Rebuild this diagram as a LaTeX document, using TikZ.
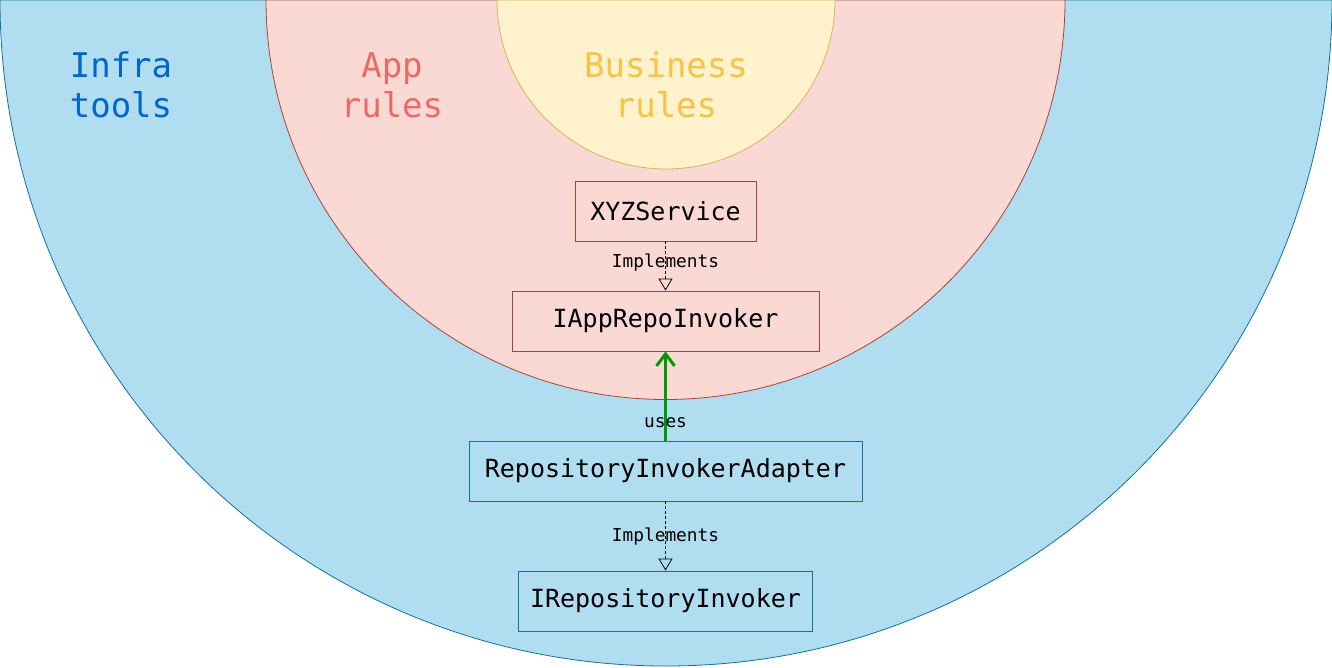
\documentclass[tikz,border=0pt]{standalone}
\usepackage{fontspec}
\setmonofont{DejaVu Sans Mono}
\usetikzlibrary{arrows.meta}
\definecolor{bluefill}{HTML}{B1DDF0}
\definecolor{bluestroke}{HTML}{10739E}
\definecolor{pinkfill}{HTML}{FAD9D5}
\definecolor{pinkstroke}{HTML}{AE4132}
\definecolor{yelfill}{HTML}{FFF2CC}
\definecolor{yelstroke}{HTML}{D6B656}
\definecolor{infratxt}{HTML}{0066CC}
\definecolor{apptxt}{HTML}{EA6B66}
\definecolor{bustxt}{HTML}{F6C342}
\definecolor{usesgreen}{HTML}{009900}
\begin{document}
\begin{tikzpicture}[x=1pt,y=1pt,
  pinkbox/.style={draw=pinkstroke, fill=pinkfill, line width=0.8pt, minimum height=60pt, inner sep=0pt,
    font=\fontsize{25}{30}\selectfont\ttfamily},
  bluebox/.style={draw=bluestroke, fill=bluefill, line width=0.8pt, minimum height=60pt, inner sep=0pt,
    font=\fontsize{25}{30}\selectfont\ttfamily},
  layerlabel/.style={align=center, font=\fontsize{34}{40}\selectfont\ttfamily},
  edgelabel/.style={font=\fontsize{17.8}{20}\selectfont\ttfamily, inner sep=0pt},
  implarrow/.style={draw=black, line width=0.6pt, dash pattern=on 3pt off 2pt, -{Triangle[open, length=12pt, width=14pt, line width=0.8pt]}},
  usesarrow/.style={draw=usesgreen, line width=3pt, -{Straight Barb[length=12pt, width=18pt, line width=3pt]}}
]
\useasboundingbox (0,0) rectangle (1332,-667);
\fill[white] (0,0) rectangle (1332,-667);
% layers
\draw[fill=bluefill, draw=bluestroke, line width=0.8pt] (0,0) arc[start angle=180, end angle=360, radius=666pt] -- cycle;
\draw[fill=pinkfill, draw=pinkstroke, line width=0.8pt] (266,0) arc[start angle=180, end angle=360, radius=399.5pt] -- cycle;
\draw[fill=yelfill, draw=yelstroke, line width=0.8pt] (497,0) arc[start angle=180, end angle=360, radius=169pt] -- cycle;
% layer labels
\node[layerlabel, text=infratxt] (infra) at (121,-85) {Infra\\tools};
\node[layerlabel, text=apptxt] (app) at (392,-85) {App\\rules};
\node[layerlabel, text=bustxt] (bus) at (666,-85) {Business\\rules};
% boxes
\node[pinkbox, minimum width=181pt] (xyz) at (665.5,-211) {XYZService};
\node[pinkbox, minimum width=307pt] (iapp) at (665.5,-321) {IAppRepoInvoker};
\node[bluebox, minimum width=393pt] (ria) at (665.5,-471) {RepositoryInvokerAdapter};
\node[bluebox, minimum width=294pt] (irepo) at (665.5,-601) {IRepositoryInvoker};
% connectors
\draw[implarrow] (xyz.south) -- (iapp.north);
\node[edgelabel] (impl1) at (665.5,-263) {Implements};
\draw[usesarrow] (ria.north) -- (iapp.south);
\node[edgelabel] (uses) at (665.5,-423) {uses};
\draw[implarrow] (ria.south) -- (irepo.north);
\node[edgelabel] (impl2) at (665.5,-537) {Implements};
\end{tikzpicture}
\end{document}
